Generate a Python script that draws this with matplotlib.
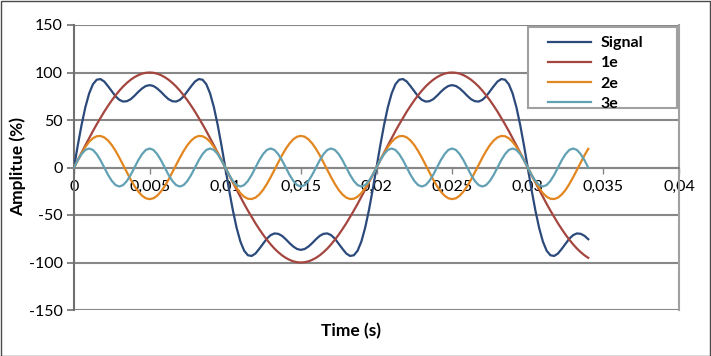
#!/usr/bin/env python3
"""Signal and its harmonics (Excel style line chart)"""

import numpy as np
import matplotlib.pyplot as plt
from matplotlib.patches import Rectangle

# sample spacing of the readings (s)
time_step = 0.00025

signal = [
    0.0, 23.3, 44.8, 63.4, 77.9, 87.6, 92.4, 93.1, 90.5, 85.6, 80.2, 74.9, 71.2, 69.4, 69.8, 71.9, 75.5, 79.6, 83.2, 85.8,
    86.7, 85.8, 83.2, 79.6, 75.5, 71.9, 69.8, 69.4, 71.2, 74.9, 80.2, 85.6, 90.5, 93.1, 92.4, 87.6, 77.9, 63.4, 44.8, 23.3,
    0.0, -23.3, -44.8, -63.4, -77.9, -87.6, -92.4, -93.1, -90.5, -85.6, -80.2, -74.9, -71.2, -69.4, -69.8, -71.9, -75.5, -79.6, -83.2, -85.8,
    -86.7, -85.8, -83.2, -79.6, -75.5, -71.9, -69.8, -69.4, -71.2, -74.9, -80.2, -85.6, -90.5, -93.1, -92.4, -87.6, -77.9, -63.4, -44.8, -23.3,
    0.0, 23.3, 44.8, 63.4, 77.9, 87.6, 92.4, 93.1, 90.5, 85.6, 80.2, 74.9, 71.2, 69.4, 69.8, 71.9, 75.5, 79.6, 83.2, 85.8,
    86.7, 85.8, 83.2, 79.6, 75.5, 71.9, 69.8, 69.4, 71.2, 74.9, 80.2, 85.6, 90.5, 93.1, 92.4, 87.6, 77.9, 63.4, 44.8, 23.3,
    0.0, -23.3, -44.8, -63.4, -77.9, -87.6, -92.4, -93.1, -90.5, -85.6, -80.2, -74.9, -71.2, -69.4, -69.8, -71.9, -75.5,
]

h1 = [
    0.0, 7.8, 15.6, 23.3, 30.9, 38.3, 45.4, 52.2, 58.8, 64.9, 70.7, 76.0, 80.9, 85.3, 89.1, 92.4, 95.1, 97.2, 98.8, 99.7,
    100.0, 99.7, 98.8, 97.2, 95.1, 92.4, 89.1, 85.3, 80.9, 76.0, 70.7, 64.9, 58.8, 52.2, 45.4, 38.3, 30.9, 23.3, 15.6, 7.8,
    0.0, -7.8, -15.6, -23.3, -30.9, -38.3, -45.4, -52.2, -58.8, -64.9, -70.7, -76.0, -80.9, -85.3, -89.1, -92.4, -95.1, -97.2, -98.8, -99.7,
    -100.0, -99.7, -98.8, -97.2, -95.1, -92.4, -89.1, -85.3, -80.9, -76.0, -70.7, -64.9, -58.8, -52.2, -45.4, -38.3, -30.9, -23.3, -15.6, -7.8,
    0.0, 7.8, 15.6, 23.3, 30.9, 38.3, 45.4, 52.2, 58.8, 64.9, 70.7, 76.0, 80.9, 85.3, 89.1, 92.4, 95.1, 97.2, 98.8, 99.7,
    100.0, 99.7, 98.8, 97.2, 95.1, 92.4, 89.1, 85.3, 80.9, 76.0, 70.7, 64.9, 58.8, 52.2, 45.4, 38.3, 30.9, 23.3, 15.6, 7.8,
    0.0, -7.8, -15.6, -23.3, -30.9, -38.3, -45.4, -52.2, -58.8, -64.9, -70.7, -76.0, -80.9, -85.3, -89.1, -92.4, -95.1,
]

h2 = [
    0.0, 7.8, 15.1, 21.6, 27.0, 30.8, 32.9, 33.2, 31.7, 28.4, 23.6, 17.4, 10.3, 2.6, -5.2, -12.8, -19.6, -25.3, -29.7, -32.4,
    -33.3, -32.4, -29.7, -25.3, -19.6, -12.8, -5.2, 2.6, 10.3, 17.4, 23.6, 28.4, 31.7, 33.2, 32.9, 30.8, 27.0, 21.6, 15.1, 7.8,
    0.0, -7.8, -15.1, -21.6, -27.0, -30.8, -32.9, -33.2, -31.7, -28.4, -23.6, -17.4, -10.3, -2.6, 5.2, 12.8, 19.6, 25.3, 29.7, 32.4,
    33.3, 32.4, 29.7, 25.3, 19.6, 12.8, 5.2, -2.6, -10.3, -17.4, -23.6, -28.4, -31.7, -33.2, -32.9, -30.8, -27.0, -21.6, -15.1, -7.8,
    0.0, 7.8, 15.1, 21.6, 27.0, 30.8, 32.9, 33.2, 31.7, 28.4, 23.6, 17.4, 10.3, 2.6, -5.2, -12.8, -19.6, -25.3, -29.7, -32.4,
    -33.3, -32.4, -29.7, -25.3, -19.6, -12.8, -5.2, 2.6, 10.3, 17.4, 23.6, 28.4, 31.7, 33.2, 32.9, 30.8, 27.0, 21.6, 15.1, 7.8,
    0.0, -7.8, -15.1, -21.6, -27.0, -30.8, -32.9, -33.2, -31.7, -28.4, -23.6, -17.4, -10.3, -2.6, 5.2, 12.8, 19.6,
]

h3 = [
    0.0, 7.7, 14.1, 18.5, 20.0, 18.5, 14.1, 7.7, 0.0, -7.7, -14.1, -18.5, -20.0, -18.5, -14.1, -7.7,
    0.0, 7.7, 14.1, 18.5, 20.0, 18.5, 14.1, 7.7, 0.0, -7.7, -14.1, -18.5, -20.0, -18.5, -14.1, -7.7,
    0.0, 7.7, 14.1, 18.5, 20.0, 18.5, 14.1, 7.7, 0.0, -7.7, -14.1, -18.5, -20.0, -18.5, -14.1, -7.7,
    0.0, 7.7, 14.1, 18.5, 20.0, 18.5, 14.1, 7.7, 0.0, -7.7, -14.1, -18.5, -20.0, -18.5, -14.1, -7.7,
    0.0, 7.7, 14.1, 18.5, 20.0, 18.5, 14.1, 7.7, 0.0, -7.7, -14.1, -18.5, -20.0, -18.5, -14.1, -7.7,
    0.0, 7.7, 14.1, 18.5, 20.0, 18.5, 14.1, 7.7, 0.0, -7.7, -14.1, -18.5, -20.0, -18.5, -14.1, -7.7,
    0.0, 7.7, 14.1, 18.5, 20.0, 18.5, 14.1, 7.7, 0.0, -7.7, -14.1, -18.5, -20.0, -18.5, -14.1, -7.7,
    0.0, 7.7, 14.1, 18.5, 20.0, 18.5, 14.1, 7.7, 0.0, -7.7, -14.1, -18.5, -20.0, -18.5, -14.1, -7.7,
    0.0, 7.7, 14.1, 18.5, 20.0, 18.5, 14.1, 7.7, 0.0,
]

series_names = ['Signal', '1e', '2e', '3e']
series_colors = ['#2b4a7b', '#a4463f', '#e2861f', '#62a1b4']

x_ticks = [0, 0.005, 0.01, 0.015, 0.02, 0.025, 0.03, 0.035, 0.04]
x_tick_labels = ['0', '0,005', '0,01', '0,015', '0,02', '0,025', '0,03', '0,035', '0,04']
y_ticks = [-150, -100, -50, 0, 50, 100, 150]

plt.rcParams['font.family'] = ['Lato', 'DejaVu Sans']

W, H = 711, 356
fig = plt.figure(figsize=(W / 100, H / 100), dpi=100)
ax = fig.add_axes([74 / W, 1 - 310 / H, (679 - 74) / W, (310 - 25) / H])

t = np.arange(len(signal)) * time_step
for name, vals, col in zip(series_names, [signal, h1, h2, h3], series_colors):
  ax.plot(t, vals, color=col, lw=1.6, label=name, zorder=3)

ax.set_xlim(0, 0.04)
ax.set_ylim(-150, 150)
ax.set_yticks(y_ticks)
ax.set_yticklabels([str(v) for v in y_ticks], fontsize=11.5)
for v in y_ticks:
  ax.axhline(v, color='#878787', lw=1.5, zorder=1)

# x axis crosses at y = 0
ax.spines['bottom'].set_position(('data', 0))
ax.spines['bottom'].set_color('#878787')
ax.spines['bottom'].set_linewidth(1.5)
ax.set_xticks(x_ticks)
ax.set_xticklabels(x_tick_labels, fontsize=11.5)
ax.tick_params(axis='x', direction='out', length=4, width=1, color='#878787', pad=5)
ax.tick_params(axis='y', direction='out', length=5, width=1.2, color='#707070', pad=3)

ax.spines['top'].set_visible(False)
ax.spines['left'].set_color('#707070')
ax.spines['left'].set_linewidth(1.5)
ax.spines['right'].set_color('#a0a0a0')
ax.spines['right'].set_linewidth(1.5)

fig.text(18 / W, 1 - 167 / H, 'Amplitue (%)', rotation=90, ha='center', va='center',
         fontsize=12.5, fontweight='bold')
fig.text(351 / W, 1 - 331 / H, 'Time (s)', ha='center', va='center',
         fontsize=12.5, fontweight='bold')

# Excel style legend: fixed box, entries placed inside it
box = Rectangle((528 / W, 1 - 108 / H), (677 - 528) / W, (108 - 27) / H,
                transform=fig.transFigure, facecolor='white', edgecolor='#a0a0a0',
                lw=1.5, zorder=4, clip_on=False)
ax.add_patch(box)
leg = ax.legend(loc='upper left', bbox_to_anchor=(548 / W, 1 - 36 / H),
                bbox_transform=fig.transFigure, frameon=False,
                prop={'weight': 'bold', 'size': 11.5}, handlelength=2.7,
                handletextpad=0.6, labelspacing=0.38, borderpad=0,
                borderaxespad=0)
leg.set_zorder(5)

fig.patches.append(Rectangle((0.5 / W, 0.5 / H), 1 - 1.5 / W, 1 - 1.5 / H,
                             transform=fig.transFigure, fill=False,
                             edgecolor='#4a4a4a', lw=1))

fig.savefig('out.png', dpi=100)
